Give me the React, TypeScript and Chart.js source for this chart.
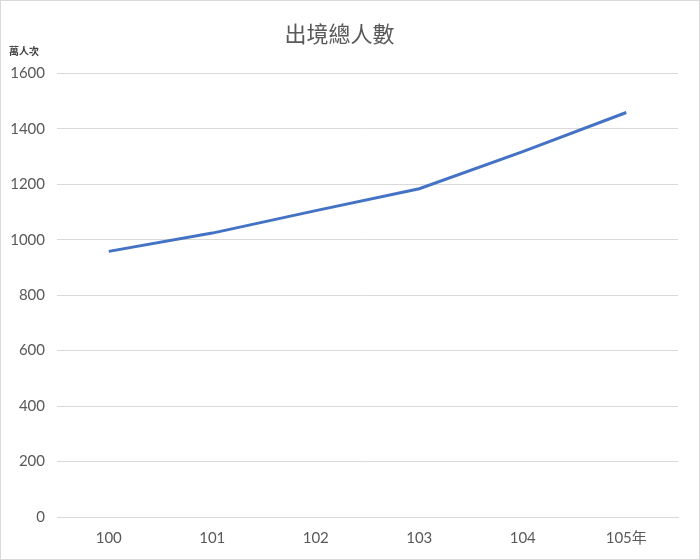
import React, { useEffect, useRef } from "react";
import { Chart, registerables } from "chart.js";

Chart.register(...registerables);

const years = ["100", "101", "102", "103", "104", "105年"];
const travellers = [958, 1024, 1105, 1184, 1318, 1459];
const yTicks = [0, 200, 400, 600, 800, 1000, 1200, 1400, 1600];
const titleText = "出境總人數";
const unitText = "萬人次";

const unitPlugin = {
  id: "unitLabel",
  afterDraw(chart: any) {
    const { ctx, chartArea } = chart;
    ctx.save();
    ctx.font = "bold 10px 'Noto Sans CJK TC', sans-serif";
    ctx.fillStyle = "#404040";
    ctx.textAlign = "left";
    ctx.textBaseline = "middle";
    ctx.fillText(unitText, 8, chartArea.top - 22);
    ctx.restore();
  },
};

export default function App() {
  const ref = useRef<HTMLCanvasElement>(null);
  useEffect(() => {
    document.body.style.margin = "0";
    const chart = new Chart(ref.current!, {
      type: "line",
      data: {
        labels: years,
        datasets: [
          {
            data: travellers,
            borderColor: "#4472C4",
            borderWidth: 3,
            pointRadius: 0,
            tension: 0,
            fill: false,
          },
        ],
      },
      options: {
        animation: false,
        responsive: false,
        layout: { padding: { left: 0, right: 21, top: 0, bottom: 0 } },
        plugins: {
          legend: { display: false },
          tooltip: { enabled: false },
          title: {
            display: true,
            text: titleText,
            color: "#595959",
            font: { size: 22, family: "'Noto Sans CJK TC', sans-serif", weight: "normal" },
            padding: { top: 19, bottom: 27 },
          },
        },
        scales: {
          x: {
            offset: true,
            grid: { display: false, drawTicks: false },
            border: { display: true, color: "#d9d9d9", width: 1 },
            afterFit: (scale: any) => {
              scale.height = 42;
            },
            ticks: {
              color: "#595959",
              font: { size: 15, family: "Lato, 'Noto Sans CJK TC', sans-serif" },
              padding: 12,
              maxRotation: 0,
            },
          },
          y: {
            min: 0,
            max: 1600,
            afterBuildTicks: (scale: any) => {
              scale.ticks = yTicks.map((v) => ({ value: v }));
            },
            afterFit: (scale: any) => {
              scale.width = 56;
            },
            grid: { color: "#d9d9d9", drawTicks: false, lineWidth: 1 },
            border: { display: false },
            ticks: {
              color: "#595959",
              font: { size: 15, family: "Lato, sans-serif" },
              padding: 12,
              callback: (v: any) => String(v),
            },
          },
        },
      },
      plugins: [unitPlugin],
    });
    return () => chart.destroy();
  }, []);
  return (
    <div
      style={{
        position: "fixed",
        left: 0,
        top: 0,
        width: 700,
        height: 560,
        boxSizing: "border-box",
        border: "1px solid #d9d9d9",
        background: "#fff",
      }}
    >
      <canvas ref={ref} width={698} height={558} style={{ display: "block" }} />
    </div>
  );
}
